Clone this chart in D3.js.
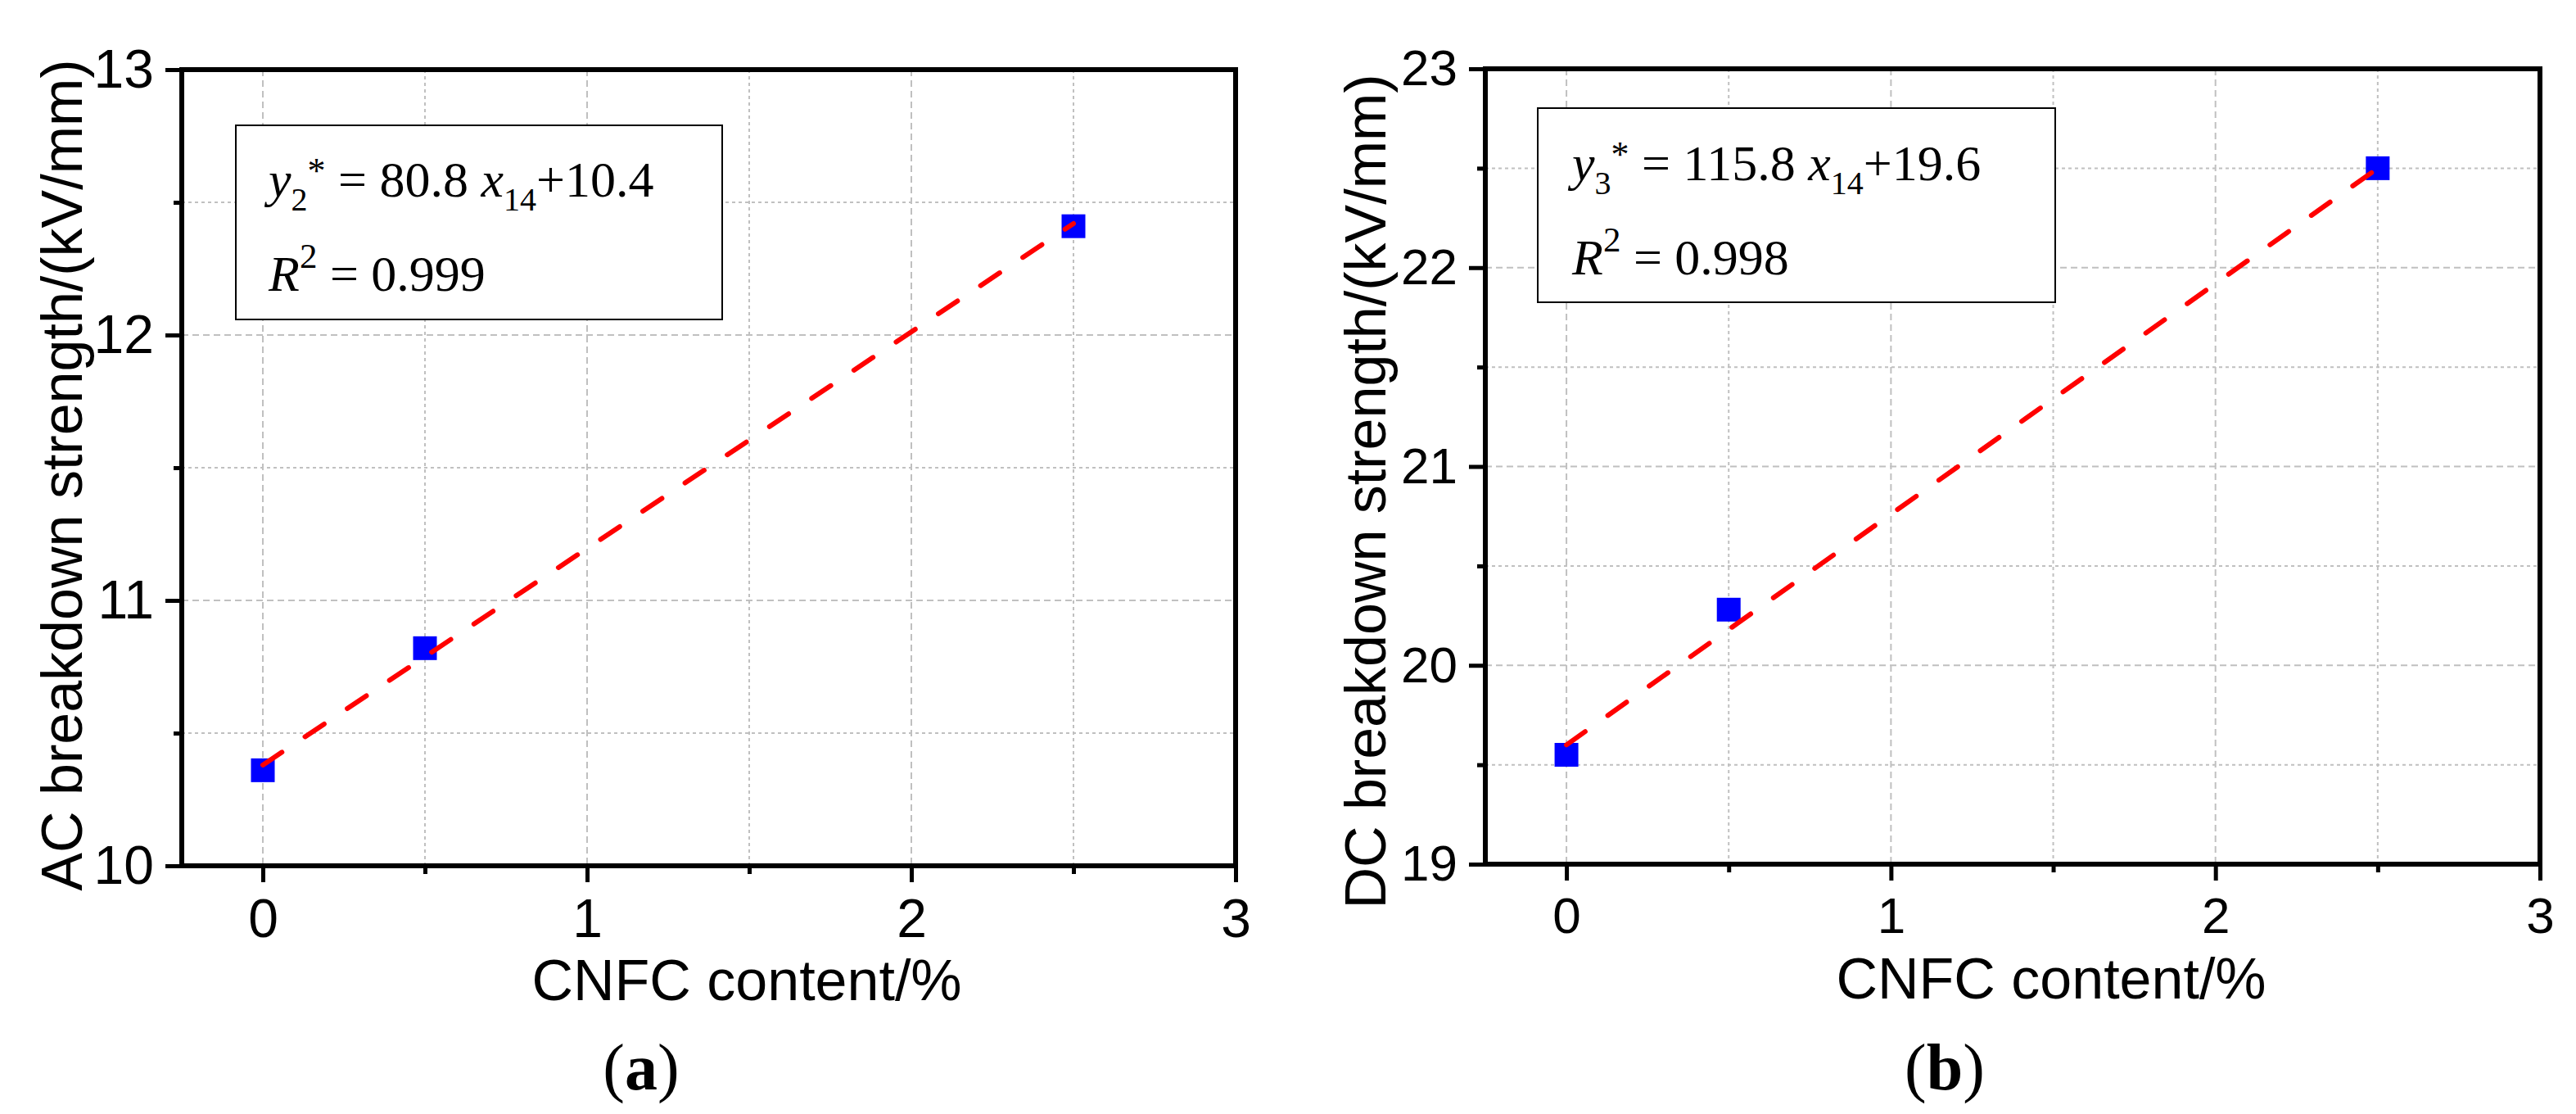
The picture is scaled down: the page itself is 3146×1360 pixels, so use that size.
<!DOCTYPE html>
<meta charset="utf-8">
<style>
body { margin: 0; background: #fff; }
.grid-major { stroke: #c0c0c0; stroke-width: 2px; stroke-dasharray: 8 5; }
.grid-minor { stroke: #c0c0c0; stroke-width: 2px; stroke-dasharray: 4 4; }
.frame { fill: none; stroke: #000; stroke-width: 6px; }
.fit { fill: none; stroke: #ff0000; stroke-width: 6px; stroke-dasharray: 28 34; stroke-linecap: round; }
.point { fill: #0000ff; }
.eq-box { fill: #fff; stroke: #000; stroke-width: 2px; }
.eq { font-family: "Liberation Serif", "Times New Roman", serif; font-size: 62px; white-space: pre; }
.sans { font-family: "Liberation Sans", Arial, sans-serif; fill: #000; }
.caption { font-family: "Liberation Serif", "Times New Roman", serif; font-size: 80px; }
</style>
<body>
<script src="https://d3js.org/d3.v7.min.js"></script>
<script>
    const width = 3146;
    const height = 1360;

    // data
    const cnfcContent = [0, 0.5, 2.5];
    const acStrength = [10.36, 10.82, 12.41];
    const dcStrength = [19.55, 20.28, 22.50];

    // fitted lines, end points
    const fitX = [0, 2.5];
    const acFit = [10.38, 12.42];
    const dcFit = [19.6, 22.5];

    const xTicks = [0, 1, 2, 3];
    const xMinorTicks = [0.5, 1.5, 2.5];
    const acTicks = [10, 11, 12, 13];
    const acMinorTicks = [10.5, 11.5, 12.5];
    const dcTicks = [19, 20, 21, 22, 23];
    const dcMinorTicks = [19.5, 20.5, 21.5, 22.5];

    const acEquation = ["2", "80.8", "10.4", "0.999"];
    const dcEquation = ["3", "115.8", "19.6", "0.998"];

    const svg = d3.select("body").append("svg")
        .attr("width", width)
        .attr("height", height);

    const panels = [
        {
            left: 222, top: 85, right: 1509, bottom: 1057,
            yDomain: [10, 13], yTicks: acTicks, yMinor: acMinorTicks,
            values: acStrength, fit: acFit, eq: acEquation,
            yTitle: "AC breakdown strength/(kV/mm)", yTitleX: 100, yTitleY: 580,
            tickFont: 66, xTitleX: 912, caption: "a", captionX: 783,
            box: [288, 153, 882, 390], eqX: 328, eqY: 240
        },
        {
            left: 1814, top: 84, right: 3102, bottom: 1055,
            yDomain: [19, 23], yTicks: dcTicks, yMinor: dcMinorTicks,
            values: dcStrength, fit: dcFit, eq: dcEquation,
            yTitle: "DC breakdown strength/(kV/mm)", yTitleX: 1692, yTitleY: 600,
            tickFont: 62, xTitleX: 2505, caption: "b", captionX: 2375,
            box: [1878, 132, 2510, 369], eqX: 1920, eqY: 220
        }
    ];

    panels.forEach(drawPanel);

    function drawPanel(p) {
        const x = d3.scaleLinear().domain([-0.25, 3]).range([p.left, p.right]);
        const y = d3.scaleLinear().domain(p.yDomain).range([p.bottom, p.top]);
        const g = svg.append("g");

        // grid lines
        const grid = g.append("g");
        grid.selectAll(".gxmaj").data(xTicks.filter(d => d < 3)).join("line")
            .attr("class", "grid-major")
            .attr("x1", d => x(d)).attr("x2", d => x(d))
            .attr("y1", p.top).attr("y2", p.bottom);
        grid.selectAll(".gxmin").data(xMinorTicks).join("line")
            .attr("class", "grid-minor")
            .attr("x1", d => x(d)).attr("x2", d => x(d))
            .attr("y1", p.top).attr("y2", p.bottom);
        grid.selectAll(".gymaj").data(p.yTicks.slice(1, -1)).join("line")
            .attr("class", "grid-major")
            .attr("x1", p.left).attr("x2", p.right)
            .attr("y1", d => y(d)).attr("y2", d => y(d));
        grid.selectAll(".gymin").data(p.yMinor).join("line")
            .attr("class", "grid-minor")
            .attr("x1", p.left).attr("x2", p.right)
            .attr("y1", d => y(d)).attr("y2", d => y(d));

        // axes
        const xAxis = g.append("g")
            .attr("transform", "translate(0," + p.bottom + ")")
            .call(d3.axisBottom(x).tickValues(xTicks).tickSize(20).tickPadding(20).tickFormat(d3.format("d")));
        const xMinor = g.append("g")
            .attr("transform", "translate(0," + p.bottom + ")")
            .call(d3.axisBottom(x).tickValues(xMinorTicks).tickSize(10).tickFormat(""));
        const yAxis = g.append("g")
            .attr("transform", "translate(" + p.left + ",0)")
            .call(d3.axisLeft(y).tickValues(p.yTicks).tickSize(20).tickPadding(14).tickFormat(d3.format("d")));
        const yMinor = g.append("g")
            .attr("transform", "translate(" + p.left + ",0)")
            .call(d3.axisLeft(y).tickValues(p.yMinor).tickSize(10).tickFormat(""));

        [xAxis, xMinor, yAxis, yMinor].forEach(function(a) {
            a.select(".domain").remove();
            a.selectAll("line").attr("stroke-width", 5);
            a.selectAll("text")
                .attr("class", "sans")
                .attr("font-size", p.tickFont);
        });

        // equation box
        const b = p.box;
        g.append("rect")
            .attr("class", "eq-box")
            .attr("x", b[0]).attr("y", b[1])
            .attr("width", b[2] - b[0]).attr("height", b[3] - b[1]);

        const line1 = g.append("text").attr("class", "eq")
            .attr("x", p.eqX).attr("y", p.eqY);
        line1.append("tspan").attr("font-style", "italic").text("y");
        line1.append("tspan").attr("font-size", 40).attr("dy", 17).text(p.eq[0]);
        line1.append("tspan").attr("font-size", 44).attr("dy", -34).text("*");
        line1.append("tspan").attr("dy", 17).text(" = " + p.eq[1] + " ");
        line1.append("tspan").attr("font-style", "italic").text("x");
        line1.append("tspan").attr("font-size", 40).attr("dy", 17).text("14");
        line1.append("tspan").attr("dy", -17).text("+" + p.eq[2]);

        const line2 = g.append("text").attr("class", "eq")
            .attr("x", p.eqX).attr("y", p.eqY + 115);
        line2.append("tspan").attr("font-style", "italic").text("R");
        line2.append("tspan").attr("font-size", 43).attr("dy", -28).text("2");
        line2.append("tspan").attr("dy", 28).text(" = " + p.eq[3]);

        // data squares
        const size = 29;
        g.selectAll(".point").data(cnfcContent).join("rect")
            .attr("class", "point")
            .attr("x", d => x(d) - size / 2)
            .attr("y", (d, i) => y(p.values[i]) - size / 2)
            .attr("width", size)
            .attr("height", size);

        // fitted line
        const fitLine = d3.line()
            .x(d => x(d[0]))
            .y(d => y(d[1]));
        g.append("path")
            .attr("class", "fit")
            .attr("d", fitLine(fitX.map((v, i) => [v, p.fit[i]])));

        // frame
        g.append("rect")
            .attr("class", "frame")
            .attr("x", p.left).attr("y", p.top)
            .attr("width", p.right - p.left).attr("height", p.bottom - p.top);

        // titles
        g.append("text")
            .attr("class", "sans")
            .attr("font-size", 70)
            .attr("text-anchor", "middle")
            .attr("x", p.xTitleX).attr("y", p.bottom + 164)
            .text("CNFC content/%");

        g.append("text")
            .attr("class", "sans")
            .attr("font-size", 70)
            .attr("text-anchor", "middle")
            .attr("transform", "translate(" + p.yTitleX + "," + p.yTitleY + ") rotate(-90)")
            .text(p.yTitle);

        const cap = g.append("text")
            .attr("class", "caption")
            .attr("text-anchor", "middle")
            .attr("x", p.captionX).attr("y", 1330);
        cap.append("tspan").text("(");
        cap.append("tspan").attr("font-weight", "bold").text(p.caption);
        cap.append("tspan").text(")");
    }
</script>
